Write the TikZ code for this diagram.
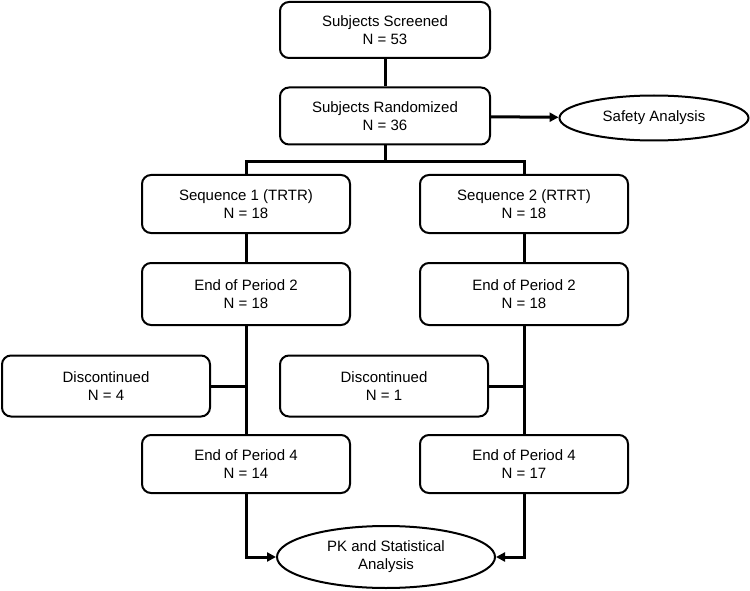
\documentclass[tikz,border=0pt]{standalone}
\usepackage{fontspec}
\setmainfont{Liberation Sans}
\usetikzlibrary{shapes.geometric,arrows.meta}
\begin{document}
\begin{tikzpicture}[x=1pt,y=-1pt,
  every node/.style={font=\fontsize{15}{18}\selectfont},
  box/.style={draw,line width=2pt,rounded corners=9pt,align=center,minimum width=208pt,minimum height=58pt,inner sep=0pt},
  oval/.style={draw,line width=2pt,ellipse,align=center,inner sep=0pt},
  conn/.style={line width=3pt},
  arr/.style={line width=3pt,-{Triangle[length=9pt,width=9pt]}}]
\useasboundingbox (0,0) rectangle (750,591);
\node[box,minimum width=210pt,minimum height=56pt] (scr) at (385,30) {Subjects Screened\\N = 53};
\node[box,minimum width=210pt,minimum height=57pt] (rand) at (385,116) {Subjects Randomized\\N = 36};
\node[oval,minimum width=189pt,minimum height=45pt] (safe) at (654,118) {Safety Analysis};
\node[box] (seq1) at (246,204) {Sequence 1 (TRTR)\\N = 18};
\node[box] (seq2) at (524,204) {Sequence 2 (RTRT)\\N = 18};
\node[box,minimum height=62pt] (e2l) at (246,294) {End of Period 2\\N = 18};
\node[box,minimum height=62pt] (e2r) at (524,294) {End of Period 2\\N = 18};
\node[box,minimum height=61pt] (dl) at (106,386) {Discontinued\\N = 4};
\node[box,minimum height=61pt] (dr) at (384,386) {Discontinued\\N = 1};
\node[box] (e4l) at (246,464) {End of Period 4\\N = 14};
\node[box] (e4r) at (524,464) {End of Period 4\\N = 17};
\node[oval,minimum width=218pt,minimum height=62pt] (pk) at (386,557) {PK and Statistical\\Analysis};
\coordinate (br) at (385,162);
\draw[conn] (scr) -- (rand);
\draw[conn] (rand) -- (br);
\draw[conn] (br) -| (seq1);
\draw[conn] (br) -| (seq2);
\draw[arr] (rand) -- (safe);
\draw[conn] (seq1) -- (e2l);
\draw[conn] (seq2) -- (e2r);
\draw[conn] (e2l) -- (e4l);
\draw[conn] (e2r) -- (e4r);
\draw[conn] (dl.east) -- (dl.east -| e2l.south);
\draw[conn] (dr.east) -- (dr.east -| e2r.south);
\draw[arr] (e4l) |- (pk);
\draw[arr] (e4r) |- (pk);
\end{tikzpicture}
\end{document}
